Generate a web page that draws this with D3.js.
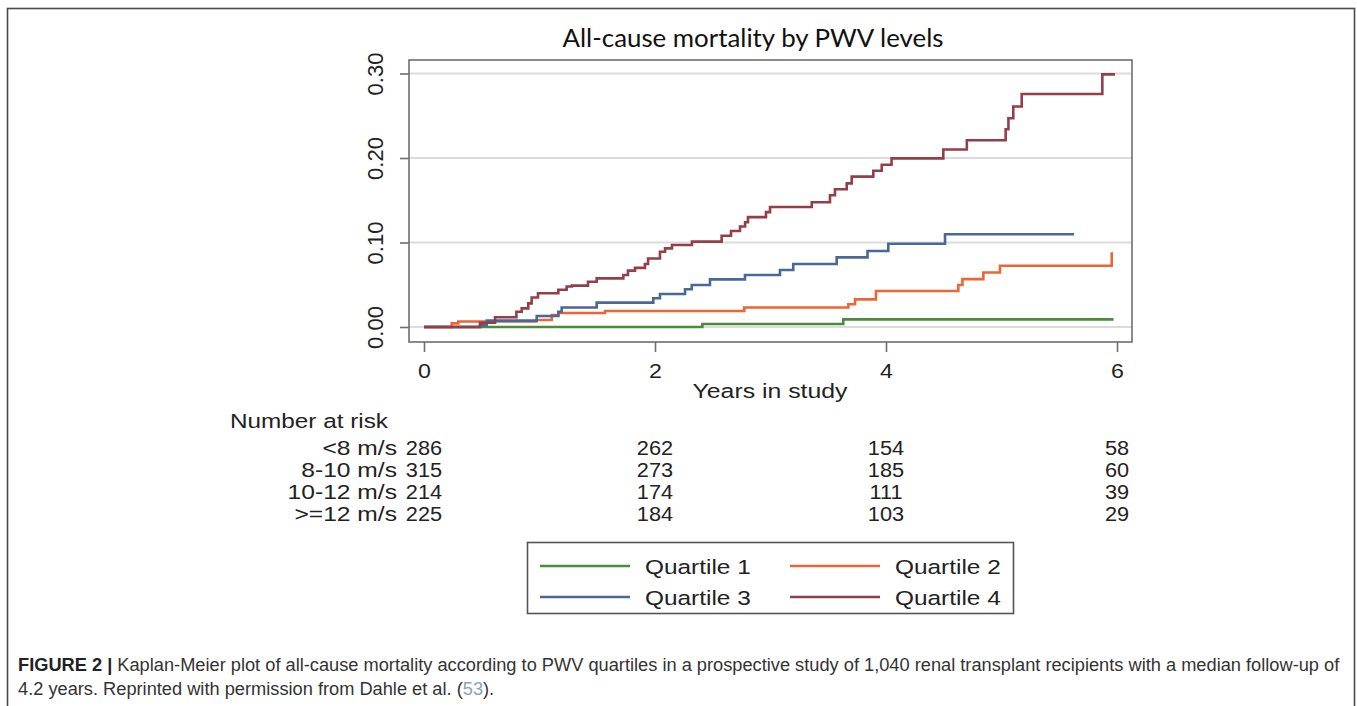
<!DOCTYPE html>
<html>
<head>
<meta charset="utf-8">
<script src="https://cdn.jsdelivr.net/npm/d3@7"></script>
<style>
  html, body { margin: 0; padding: 0; background: #ffffff; }
  svg { display: block; }
</style>
</head>
<body>
<svg id="chart" width="1357" height="706"></svg>
<script>
// ---------------- data ----------------
const title = "All-cause mortality by PWV levels";
const xTicks = [0, 2, 4, 6];
const yTicks = [0, 0.10, 0.20, 0.30];
const xLabel = "Years in study";
const seriesNames = ["Quartile 1", "Quartile 2", "Quartile 3", "Quartile 4"];
const seriesColors = ["#4c8a3c", "#ec6535", "#4a6896", "#923f49"];

// Kaplan-Meier step points [years, cumulative mortality]
const q1 = [[0, 0], [2.41, 0.0035], [3.63, 0.009], [5.97, 0.009]];
const q2 = [[0, 0], [0.24, 0.0043], [0.297, 0.0065], [0.97, 0.0083], [1.106, 0.0142],
  [1.163, 0.0165], [1.567, 0.019], [2.773, 0.023], [3.674, 0.027], [3.732, 0.0327],
  [3.913, 0.0426], [4.626, 0.0497], [4.662, 0.0566], [4.843, 0.0645], [4.987, 0.0724],
  [5.954, 0.0724], [5.954, 0.0884]];
const q3 = [[0, 0], [0.485, 0.0024], [0.543, 0.0075], [0.976, 0.013], [1.163, 0.018],
  [1.192, 0.023], [1.495, 0.0288], [1.985, 0.034], [2.043, 0.039], [2.26, 0.0446],
  [2.318, 0.0497], [2.476, 0.0564], [2.779, 0.0615], [3.082, 0.0675], [3.197, 0.0745],
  [3.573, 0.0824], [3.84, 0.090], [4.02, 0.0985], [4.511, 0.1097], [5.628, 0.1097]];
const q4 = [[0, 0], [0.485, 0.005], [0.615, 0.0115], [0.80, 0.018], [0.846, 0.022],
  [0.903, 0.028], [0.932, 0.035], [0.987, 0.040], [1.163, 0.044], [1.235, 0.048],
  [1.28, 0.049], [1.42, 0.0536], [1.495, 0.0576], [1.726, 0.0615], [1.766, 0.0667],
  [1.827, 0.070], [1.913, 0.0746], [1.94, 0.081], [2.043, 0.089], [2.087, 0.093],
  [2.147, 0.097], [2.32, 0.101], [2.577, 0.108], [2.658, 0.1136], [2.736, 0.119],
  [2.78, 0.124], [2.805, 0.130], [2.961, 0.136], [2.996, 0.142], [3.357, 0.1476],
  [3.515, 0.156], [3.558, 0.163], [3.66, 0.170], [3.703, 0.178], [3.89, 0.185],
  [3.963, 0.192], [4.048, 0.1996], [4.496, 0.210], [4.70, 0.221], [5.036, 0.234],
  [5.06, 0.247], [5.102, 0.261], [5.175, 0.2757], [5.873, 0.299], [5.983, 0.299]];
const seriesData = [q1, q2, q3, q4];

const riskTitle = "Number at risk";
const riskLabels = ["<8 m/s", "8-10 m/s", "10-12 m/s", ">=12 m/s"];
const riskCounts = [
  [286, 262, 154, 58],
  [315, 273, 185, 60],
  [214, 174, 111, 39],
  [225, 184, 103, 29]
];

const captionBold = "FIGURE 2 |";
const captionLine1 = " Kaplan-Meier plot of all-cause mortality according to PWV quartiles in a prospective study of 1,040 renal transplant recipients with a median follow-up of";
const captionLine2a = "4.2 years. Reprinted with permission from Dahle et al. (";
const captionRef = "53";
const captionLine2b = ").";

// ---------------- layout ----------------
const svg = d3.select("#chart");
const frame = { left: 409, right: 1132, top: 60, bottom: 342 };
const x = d3.scaleLinear().domain([0, 6]).range([424, 1117]);
const y = d3.scaleLinear().domain([0, 0.3]).range([327, 73.5]);
const sans = "'Liberation Sans', Arial, Helvetica, sans-serif";
const txtFs = 20.5;
const hStretch = 1.13;

function fit(sel, target) {
  const base = parseFloat(sel.attr("font-size"));
  const w = sel.node().getComputedTextLength();
  const fs = base * target / w;
  sel.attr("font-size", fs);
  return fs;
}
function stretch(sel, factor) {
  sel.each(function () {
    const w = this.getComputedTextLength();
    d3.select(this).attr("textLength", w * factor).attr("lengthAdjust", "spacingAndGlyphs");
  });
}

// outer figure frame
svg.append("rect")
  .attr("x", 7.5).attr("y", 8.5).attr("width", 1347).attr("height", 720)
  .attr("fill", "none").attr("stroke", "#4a4a4a").attr("stroke-width", 1.6);

// title
const t = svg.append("text").attr("x", 753).attr("y", 47)
  .attr("text-anchor", "middle").attr("font-family", "Lato, 'Open Sans', sans-serif")
  .attr("font-size", 26).attr("fill", "#111").text(title);
fit(t, 381);

// gridlines
svg.append("g").selectAll("line").data(yTicks).join("line")
  .attr("x1", frame.left).attr("x2", frame.right)
  .attr("y1", d => y(d)).attr("y2", d => y(d))
  .attr("stroke", "#dcdcdc").attr("stroke-width", 2);

// plot frame
svg.append("rect")
  .attr("x", frame.left).attr("y", frame.top)
  .attr("width", frame.right - frame.left).attr("height", frame.bottom - frame.top)
  .attr("fill", "none").attr("stroke", "#6e6e6e").attr("stroke-width", 1.6);

// axes
const xAxis = svg.append("g").attr("transform", `translate(0,${frame.bottom})`)
  .call(d3.axisBottom(x).tickValues(xTicks).tickSize(10).tickFormat(d3.format("d")));
xAxis.select(".domain").remove();
xAxis.selectAll(".tick line").attr("stroke", "#6e6e6e").attr("stroke-width", 1.6);
xAxis.selectAll(".tick text").attr("font-family", sans).attr("fill", "#222").attr("font-size", txtFs)
  .attr("dy", null).attr("y", 36);
stretch(xAxis.selectAll(".tick text"), hStretch);

const yAxis = svg.append("g").attr("transform", `translate(${frame.left},0)`)
  .call(d3.axisLeft(y).tickValues(yTicks).tickSize(9).tickFormat(d3.format(".2f")));
yAxis.select(".domain").remove();
yAxis.selectAll(".tick line").attr("stroke", "#6e6e6e").attr("stroke-width", 1.6);
yAxis.selectAll(".tick text")
  .attr("font-family", sans).attr("fill", "#222").attr("font-size", 22)
  .attr("x", null).attr("dy", null).attr("text-anchor", "middle")
  .attr("transform", "translate(-26,0) rotate(-90)");

// x title
const xt = svg.append("text").attr("x", 770).attr("y", 398).attr("text-anchor", "middle")
  .attr("font-family", sans).attr("font-size", txtFs).attr("fill", "#222").text(xLabel);
xt.attr("textLength", 155).attr("lengthAdjust", "spacingAndGlyphs");

// curves
const line = d3.line().x(d => x(d[0])).y(d => y(d[1])).curve(d3.curveStepAfter);
svg.append("g").selectAll("path").data(seriesData).join("path")
  .attr("d", d => line(d)).attr("fill", "none")
  .attr("stroke", (d, i) => seriesColors[i]).attr("stroke-width", 2.6)
  .attr("stroke-linejoin", "miter");

// number at risk
const rt = svg.append("text").attr("x", 230).attr("y", 428)
  .attr("font-family", sans).attr("font-size", txtFs).attr("fill", "#222").text(riskTitle);
rt.attr("textLength", 158).attr("lengthAdjust", "spacingAndGlyphs");
const rowY = d3.scalePoint().domain(d3.range(riskLabels.length)).range([455, 521]);
const rows = svg.append("g").selectAll("g").data(riskCounts).join("g");
const rl = rows.append("text").attr("x", 397).attr("y", (d, i) => rowY(i)).attr("text-anchor", "end")
  .attr("font-family", sans).attr("font-size", txtFs).attr("fill", "#222")
  .text((d, i) => riskLabels[i]);
stretch(rl, 1.2);
rows.each(function (d, i) {
  const n = d3.select(this).selectAll("text.n").data(d).join("text").attr("class", "n")
    .attr("x", (v, j) => x(xTicks[j])).attr("y", rowY(i)).attr("text-anchor", "middle")
    .attr("font-family", sans).attr("font-size", txtFs).attr("fill", "#222").text(v => v);
  stretch(n, 1.06);
});

// legend
const leg = svg.append("g");
leg.append("rect").attr("x", 527.5).attr("y", 542.5).attr("width", 486).attr("height", 71)
  .attr("fill", "#fff").attr("stroke", "#555").attr("stroke-width", 1.6);
const legPos = [[540, 566], [790, 566], [540, 597], [790, 597]];
seriesNames.forEach((name, i) => {
  const [lx, ly] = legPos[i];
  leg.append("line").attr("x1", lx).attr("x2", lx + 90).attr("y1", ly).attr("y2", ly)
    .attr("stroke", seriesColors[i]).attr("stroke-width", 2.6);
  const lt = leg.append("text").attr("x", lx + 105).attr("y", ly + 8)
    .attr("font-family", sans).attr("font-size", txtFs).attr("fill", "#222").text(name);
  stretch(lt, 1.19);
});

// caption (scaled horizontally so line 1 spans the figure width)
const capFont = "'Liberation Sans Narrow', 'Arial Narrow', 'Liberation Sans', sans-serif";
const g1 = svg.append("g");
const c1 = g1.append("text").attr("x", 0).attr("y", 0)
  .attr("font-family", capFont).attr("font-size", 18.5).attr("fill", "#333");
c1.append("tspan").attr("font-weight", "bold").attr("fill", "#222").text(captionBold);
c1.append("tspan").text(captionLine1);
const sx = 1322 / c1.node().getComputedTextLength();
g1.attr("transform", `translate(18,671) scale(${sx},1)`);
const g2 = svg.append("g").attr("transform", `translate(18,695) scale(${sx},1)`);
const c2 = g2.append("text").attr("x", 0).attr("y", 0)
  .attr("font-family", capFont).attr("font-size", 18.5).attr("fill", "#333");
c2.append("tspan").text(captionLine2a);
c2.append("tspan").attr("fill", "#8aa2b8").text(captionRef);
c2.append("tspan").text(captionLine2b);
</script>
</body>
</html>
